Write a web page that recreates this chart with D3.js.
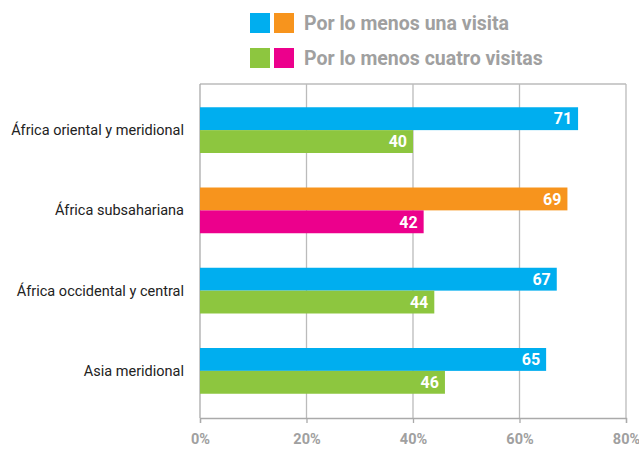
<!DOCTYPE html>
<html>
<head>
<meta charset="utf-8">
<script src="https://cdn.jsdelivr.net/npm/d3@7"></script>
<style>
  body { margin: 0; background: #fff; }
  svg text { font-family: "Roboto", sans-serif; }
</style>
</head>
<body>
<div id="chart"></div>
<script>
// datos
var categories = ["África oriental y meridional", "África subsahariana", "África occidental y central", "Asia meridional"];
var unaVisita = [71, 69, 67, 65];
var cuatroVisitas = [40, 42, 44, 46];
var tickValues = [0, 20, 40, 60, 80];
var legendLabels = ["Por lo menos una visita", "Por lo menos cuatro visitas"];

var colorsNormal = ["#00aeef", "#8dc63f"];
var colorsHighlight = ["#f7941d", "#ec008c"];
var highlight = "África subsahariana";

var width = 639, height = 450;
var plotLeft = 200, plotRight = 626, plotTop = 84, plotBottom = 418;

var svg = d3.select("#chart").append("svg")
    .attr("width", width)
    .attr("height", height);

var x = d3.scaleLinear().domain([0, 80]).range([plotLeft, plotRight]);

var y = d3.scaleBand()
    .domain(categories)
    .range([90, 411])
    .paddingInner(0.43)
    .paddingOuter(0.215);

var sub = d3.scaleBand().domain([0, 1]).range([0, y.bandwidth()]);

// grid / marco
svg.append("g").selectAll("line")
    .data(tickValues.slice(1))
    .enter().append("line")
    .attr("x1", function(d) { return x(d); })
    .attr("x2", function(d) { return x(d); })
    .attr("y1", plotTop)
    .attr("y2", plotBottom)
    .attr("stroke", "#bbb")
    .attr("stroke-width", 1.3);

svg.append("line")
    .attr("x1", plotLeft).attr("x2", plotRight)
    .attr("y1", plotTop).attr("y2", plotTop)
    .attr("stroke", "#bbb").attr("stroke-width", 1.3);

svg.append("line")
    .attr("x1", plotLeft).attr("x2", plotLeft)
    .attr("y1", plotTop).attr("y2", plotBottom)
    .attr("stroke", "#aaa").attr("stroke-width", 1.3);

// eje X
var xAxis = svg.append("g")
    .attr("transform", "translate(0," + plotBottom + ")")
    .call(d3.axisBottom(x).tickValues(tickValues).tickSize(5).tickPadding(11)
      .tickFormat(function(d) { return d + "%"; }));
xAxis.select(".domain").attr("stroke", "#aaa").attr("stroke-width", 1.3);
xAxis.selectAll(".tick line").attr("stroke", "#aaa").attr("stroke-width", 1.3);
xAxis.selectAll(".tick text")
    .attr("fill", "#a0a0a0")
    .style("font-size", "14.5px")
    .style("font-weight", "bold");

// barras
var rows = categories.map(function(c, i) {
  return { name: c, values: [unaVisita[i], cuatroVisitas[i]] };
});

var groups = svg.selectAll(".grp")
    .data(rows)
    .enter().append("g")
    .attr("class", "grp")
    .attr("transform", function(d) { return "translate(0," + y(d.name) + ")"; });

groups.selectAll("rect")
    .data(function(d) { return d.values.map(function(v, k) { return { v: v, k: k, name: d.name }; }); })
    .enter().append("rect")
    .attr("x", x(0))
    .attr("y", function(d) { return sub(d.k); })
    .attr("width", function(d) { return x(d.v) - x(0); })
    .attr("height", sub.bandwidth())
    .attr("fill", function(d) { return d.name == highlight ? colorsHighlight[d.k] : colorsNormal[d.k]; });

groups.selectAll(".val")
    .data(function(d) { return d.values.map(function(v, k) { return { v: v, k: k }; }); })
    .enter().append("text")
    .attr("class", "val")
    .attr("x", function(d) { return x(d.v) - 6; })
    .attr("y", function(d) { return sub(d.k) + sub.bandwidth() / 2; })
    .attr("dy", "0.36em")
    .attr("text-anchor", "end")
    .attr("fill", "#fff")
    .style("font-size", "16px")
    .style("font-weight", "bold")
    .text(function(d) { return d.v; });

// etiquetas de categoría
svg.selectAll(".cat")
    .data(categories)
    .enter().append("text")
    .attr("class", "cat")
    .attr("x", 184)
    .attr("y", function(d) { return y(d) + y.bandwidth() / 2; })
    .attr("dy", "0.35em")
    .attr("text-anchor", "end")
    .attr("fill", "#222")
    .style("font-size", "14.5px")
    .text(function(d) { return d; });

// leyenda
var legend = svg.selectAll(".leg")
    .data(legendLabels)
    .enter().append("g")
    .attr("class", "leg")
    .attr("transform", function(d, i) { return "translate(250," + (13 + i * 35) + ")"; });

legend.append("rect")
    .attr("width", 20).attr("height", 20)
    .attr("fill", function(d, i) { return colorsNormal[i]; });
legend.append("rect")
    .attr("x", 24)
    .attr("width", 20).attr("height", 20)
    .attr("fill", function(d, i) { return colorsHighlight[i]; });
legend.append("text")
    .attr("x", 54)
    .attr("y", 10)
    .attr("dy", "0.36em")
    .attr("fill", "#a0a0a0")
    .style("font-size", "19.5px")
    .style("font-weight", "bold")
    .text(function(d) { return d; });
</script>
</body>
</html>
